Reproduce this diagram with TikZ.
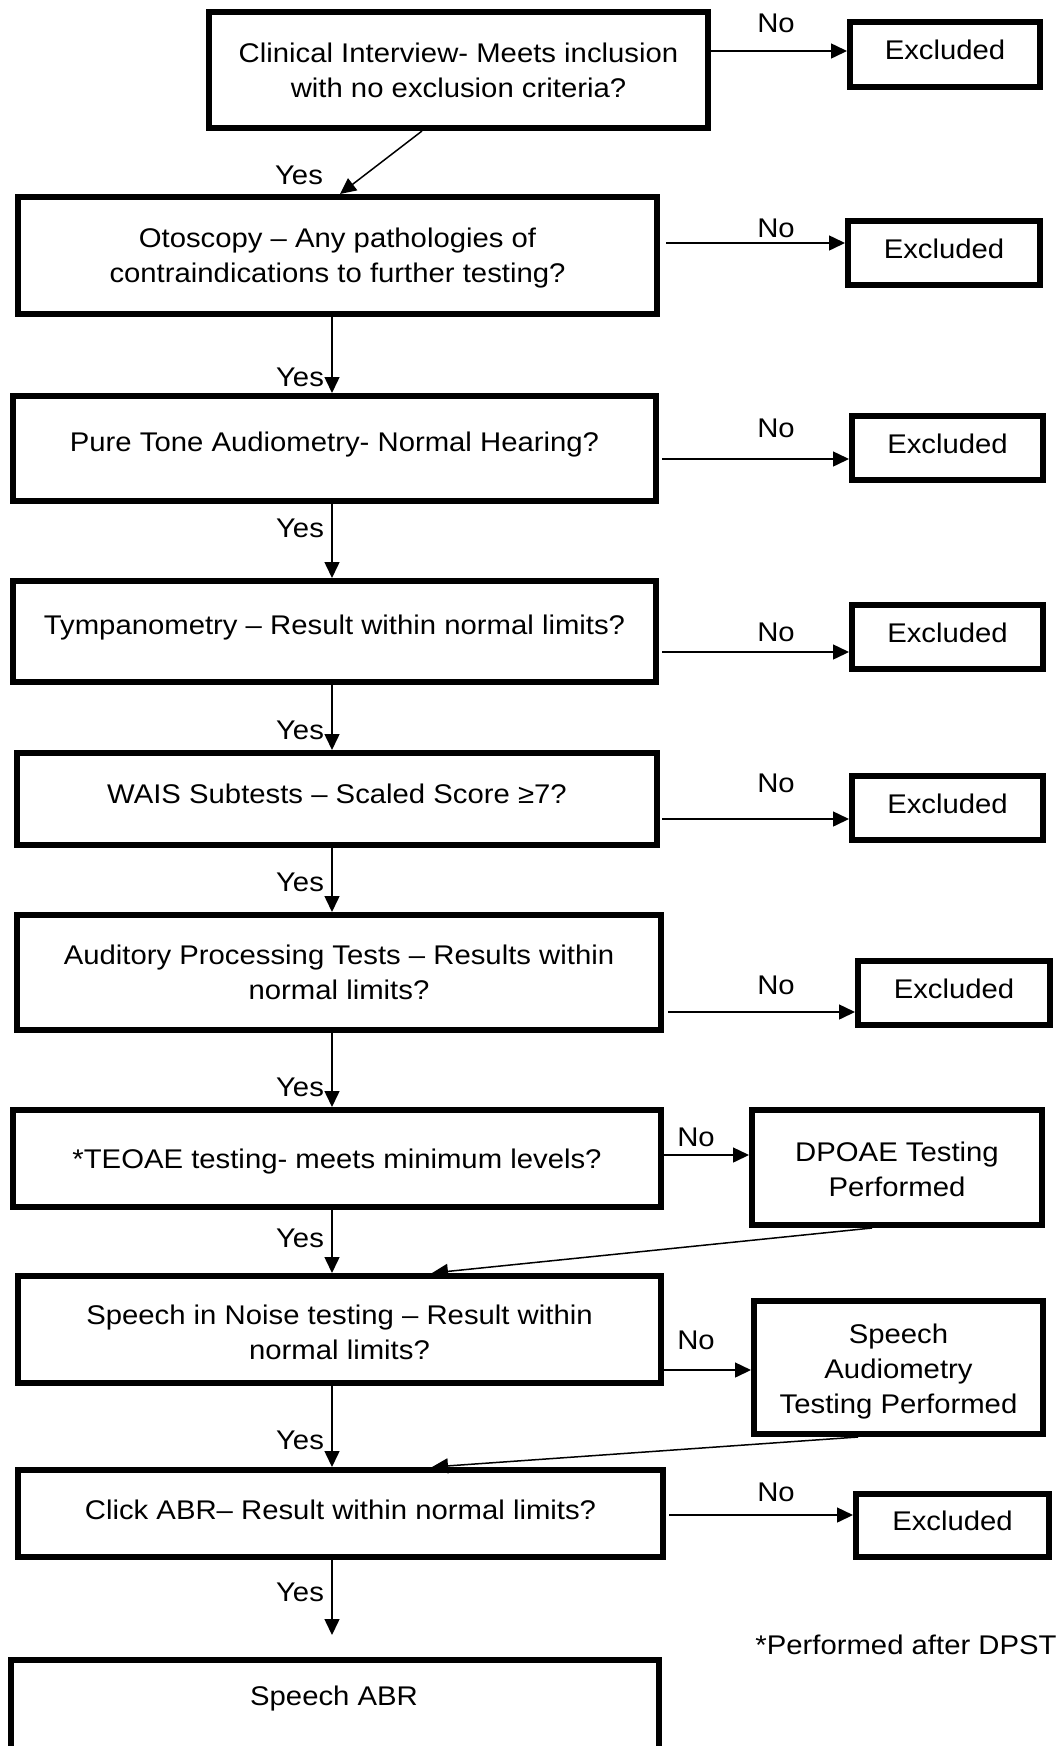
\documentclass[tikz,border=0pt]{standalone}
\usepackage{fontspec}
\setmainfont{Liberation Sans}[FakeStretch=1.085]
\usetikzlibrary{arrows.meta}
\begin{document}
\begin{tikzpicture}[x=1pt,y=-1pt,
  every node/.style={font=\fontsize{27}{35}\selectfont, align=center},
  box/.style={draw, line width=6pt, inner sep=0pt, rectangle},
  arr/.style={line width=1.5pt, -{Triangle[length=16pt,width=15pt]}},
  lab/.style={inner sep=0pt}]
\useasboundingbox (0,0) rectangle (1060,1746);
\fill[white] (0,0) rectangle (1060,1746);
\clip (0,0) rectangle (1060,1746);

% main column boxes
\node[box, minimum width=499pt, minimum height=116pt] (B1) at (458.5,70) {};
\node[box, minimum width=639pt, minimum height=117pt] (B2) at (337.5,255.5) {};
\node[box, minimum width=643pt, minimum height=105pt] (B3) at (334.5,448.5) {};
\node[box, minimum width=643pt, minimum height=101pt] (B4) at (334.5,631.5) {};
\node[box, minimum width=640pt, minimum height=92pt] (B5) at (337,799) {};
\node[box, minimum width=644pt, minimum height=115pt] (B6) at (339,972.5) {};
\node[box, minimum width=648pt, minimum height=97pt] (B7) at (337,1158.5) {};
\node[box, minimum width=643pt, minimum height=107pt] (B8) at (339.5,1329.5) {};
\node[box, minimum width=645pt, minimum height=87pt] (B9) at (340.5,1513.5) {};
\node[box, minimum width=648pt, minimum height=138pt] (B10) at (335,1728.5) {};

% main column texts
\node[lab] (B1t) at (B1) {Clinical Interview- Meets inclusion\\with no exclusion criteria?};
\node[lab, yshift=-3pt] (B2t) at (B2) {Otoscopy – Any pathologies of\\contraindications to further testing?};
\node[lab, yshift=4pt] (B3t) at (B3) {Pure Tone Audiometry- Normal Hearing?};
\node[lab, yshift=4pt] (B4t) at (B4) {Tympanometry – Result within normal limits?};
\node[lab, yshift=5pt] (B5t) at (B5) {WAIS Subtests – Scaled Score ≥7?};
\node[lab] (B6t) at (B6) {Auditory Processing Tests – Results within\\normal limits?};
\node[lab, yshift=-3pt] (B7t) at (B7) {*TEOAE testing- meets minimum levels?};
\node[lab, yshift=-3pt] (B8t) at (B8) {Speech in Noise testing – Result within\\normal limits?};
\node[lab, yshift=4pt] (B9t) at (B9) {Click ABR– Result within normal limits?};
\node[lab] (B10t) at (334,1698) {Speech ABR};

% right column
\node[box, minimum width=190pt, minimum height=65pt] (E1) at (945,54.5) {};
\node[box, minimum width=192pt, minimum height=64pt] (E2) at (944,253) {};
\node[box, minimum width=191pt, minimum height=64pt] (E3) at (947.5,448) {};
\node[box, minimum width=191pt, minimum height=64pt] (E4) at (947.5,637) {};
\node[box, minimum width=191pt, minimum height=64pt] (E5) at (947.5,808) {};
\node[box, minimum width=192pt, minimum height=64pt] (E6) at (954,993) {};
\node[box, minimum width=290pt, minimum height=115pt] (D) at (897,1167.5) {};
\node[box, minimum width=289pt, minimum height=133pt] (S) at (898.5,1367.5) {};
\node[box, minimum width=193pt, minimum height=63pt] (E9) at (952.5,1525.5) {};

\foreach \e in {E1,E2,E3,E4,E5,E6,E9}
  \node[lab, yshift=4.5pt] (\e t) at (\e) {Excluded};
\node[lab, yshift=-2pt] (Dt) at (D) {DPOAE Testing\\Performed};
\node[lab, yshift=-4pt] (St) at (S) {Speech\\Audiometry\\Testing Performed};

\node[lab] (note) at (906,1645) {*Performed after DPST};

% No arrows
\draw[arr] (B1.east |- 0,51) -- (E1.west |- 0,51);
\draw[arr, shorten <=6pt] (B2.east |- 0,243) -- (E2.west |- 0,243);
\draw[arr, shorten <=3pt] (B3.east |- 0,459) -- (E3.west |- 0,459);
\draw[arr, shorten <=3pt] (B4.east |- 0,652) -- (E4.west |- 0,652);
\draw[arr, shorten <=2pt] (B5.east |- 0,819) -- (E5.west |- 0,819);
\draw[arr, shorten <=4pt] (B6.east |- 0,1012) -- (E6.west |- 0,1012);
\draw[arr] (B7.east |- 0,1155) -- (D.west |- 0,1155);
\draw[arr] (B8.east |- 0,1370) -- (S.west |- 0,1370);
\draw[arr, shorten <=3pt] (B9.east |- 0,1515) -- (E9.west |- 0,1515);

\node[lab] (n1) at (776,23) {No};
\node[lab] (n2) at (776,228) {No};
\node[lab] (n3) at (776,428) {No};
\node[lab] (n4) at (776,632) {No};
\node[lab] (n5) at (776,783) {No};
\node[lab] (n6) at (776,985) {No};
\node[lab] (n7) at (696,1137) {No};
\node[lab] (n8) at (696,1340) {No};
\node[lab] (n9) at (776,1492) {No};

% Yes arrows
\draw[arr] (B1.south -| 422,0) -- (B2.north -| 340,0);
\draw[arr] (B2.south -| 332,0) -- (B3.north -| 332,0);
\draw[arr] (B3.south -| 332,0) -- (B4.north -| 332,0);
\draw[arr] (B4.south -| 332,0) -- (B5.north -| 332,0);
\draw[arr] (B5.south -| 332,0) -- (B6.north -| 332,0);
\draw[arr] (B6.south -| 332,0) -- (B7.north -| 332,0);
\draw[arr] (B7.south -| 332,0) -- (B8.north -| 332,0);
\draw[arr] (B8.south -| 332,0) -- (B9.north -| 332,0);
\coordinate (end) at (332,1635);
\draw[arr] (B9.south -| 332,0) -- (end);

\draw[arr] (D.south -| 872,0) -- (B8.north -| 432,0);
\draw[arr] (S.south -| 858,0) -- (B9.north -| 432,0);

\node[lab] (y1) at (299,175) {Yes};
\node[lab] (y2) at (300,377) {Yes};
\node[lab] (y3) at (300,528) {Yes};
\node[lab] (y4) at (300,730) {Yes};
\node[lab] (y5) at (300,882) {Yes};
\node[lab] (y6) at (300,1087) {Yes};
\node[lab] (y7) at (300,1238) {Yes};
\node[lab] (y8) at (300,1440) {Yes};
\node[lab] (y9) at (300,1592) {Yes};
\end{tikzpicture}
\end{document}
